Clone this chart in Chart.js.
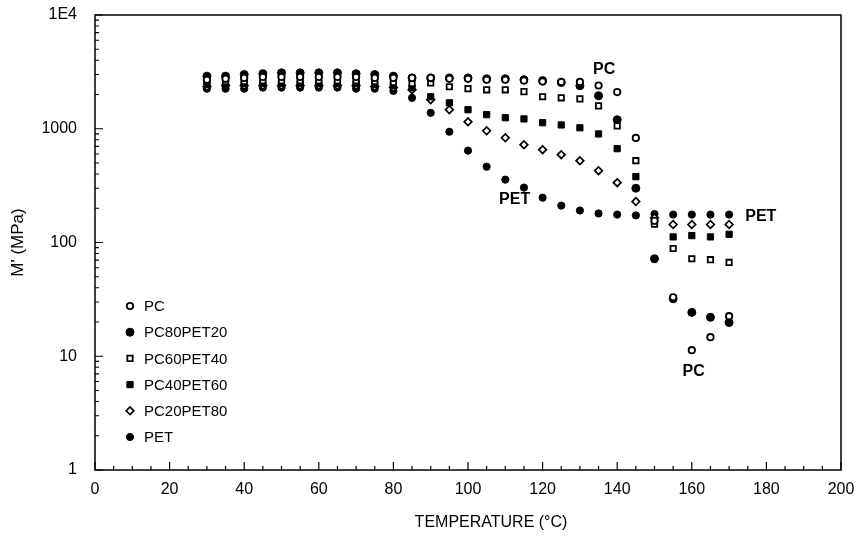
<!DOCTYPE html>
<html>
<head>
<meta charset="utf-8">
<script src="https://cdn.jsdelivr.net/npm/chart.js@4.4.0/dist/chart.umd.min.js"></script>
<style>
  html, body { margin: 0; padding: 0; background: #fff; }
</style>
</head>
<body>
<canvas id="myChart" width="862" height="539"></canvas>
<script>
// temperature (C)
const temps = [30, 35, 40, 45, 50, 55, 60, 65, 70, 75, 80, 85, 90, 95, 100, 105, 110, 115, 120, 125, 130, 135, 140, 145, 150, 155, 160, 165, 170];

// storage modulus M' (MPa)
const pc        = [2700, 2750, 2800, 2850, 2850, 2850, 2850, 2850, 2850, 2800, 2800, 2800, 2800, 2750, 2750, 2700, 2700, 2650, 2600, 2580, 2580, 2400, 2100, 830, 155, 33, 11.3, 14.7, 22.5];
const pc80pet20 = [2900, 2900, 3000, 3050, 3100, 3100, 3100, 3100, 3050, 3000, 2900, 2800, 2800, 2800, 2800, 2750, 2750, 2700, 2650, 2550, 2390, 1950, 1200, 300, 72, 32, 24.3, 22, 19.8];
const pc60pet40 = [2600, 2600, 2600, 2650, 2650, 2650, 2650, 2650, 2650, 2600, 2550, 2500, 2530, 2340, 2250, 2200, 2200, 2120, 1910, 1870, 1830, 1590, 1060, 524, 145, 88.5, 72, 70.6, 66.8];
const pc40pet60 = [2450, 2450, 2500, 2500, 2500, 2500, 2500, 2500, 2500, 2450, 2400, 2290, 1910, 1690, 1470, 1330, 1250, 1220, 1130, 1080, 1020, 900, 668, 379, 150, 112, 115, 112, 118];
const pc20pet80 = [2350, 2400, 2400, 2400, 2400, 2400, 2400, 2400, 2400, 2350, 2300, 2200, 1800, 1470, 1150, 960, 833, 724, 655, 592, 524, 428, 336, 229, 165, 144, 144, 144, 144];
const pet       = [2250, 2250, 2250, 2300, 2300, 2300, 2300, 2300, 2250, 2250, 2150, 1870, 1380, 941, 642, 464, 357, 304, 248, 211, 191, 180, 176, 173, 178, 176, 176, 176, 176];

const seriesNames = ["PC", "PC80PET20", "PC60PET40", "PC40PET60", "PC20PET80", "PET"];
const yTicks = [1, 10, 100, 1000, 10000];

// curve labels (x = temperature, y = modulus)
const notes = [
  { text: "PC",  x: 136.5, y: 3300 },
  { text: "PET", x: 112.5, y: 238 },
  { text: "PET", x: 178.5, y: 169 },
  { text: "PC",  x: 160.5, y: 7.4 }
];

const FONT = "'Liberation Sans', Arial, sans-serif";

function pts(vals) {
  return temps.map((t, i) => ({ x: t, y: vals[i] }));
}

const styles = [
  { pointStyle: "circle",  pointRadius: 3.2, pointBackgroundColor: "#fff", pointBorderWidth: 1.8 },
  { pointStyle: "circle",  pointRadius: 4,   pointBackgroundColor: "#000", pointBorderWidth: 1 },
  { pointStyle: "rect",    pointRadius: 3.8, pointBackgroundColor: "#fff", pointBorderWidth: 1.8 },
  { pointStyle: "rect",    pointRadius: 4.4, pointBackgroundColor: "#000", pointBorderWidth: 1 },
  { pointStyle: "rectRot", pointRadius: 3.8, pointBackgroundColor: "#fff", pointBorderWidth: 1.7 },
  { pointStyle: "circle",  pointRadius: 3.6, pointBackgroundColor: "#000", pointBorderWidth: 1 }
];

const allVals = [pc, pc80pet20, pc60pet40, pc40pet60, pc20pet80, pet];

const datasets = allVals.map((v, i) => Object.assign({
  label: seriesNames[i],
  data: pts(v),
  showLine: false,
  pointBorderColor: "#000"
}, styles[i]));

// frame, inward ticks, legend box, x title and curve labels
const decor = {
  id: "decor",
  afterDraw(chart) {
    const ctx = chart.ctx;
    const a = chart.chartArea;
    const xs = chart.scales.x;
    const ys = chart.scales.y;
    ctx.save();
    ctx.strokeStyle = "#000";
    ctx.lineWidth = 1.5;
    ctx.strokeRect(a.left, a.top, a.right - a.left, a.bottom - a.top);

    ctx.lineWidth = 1.2;
    ctx.beginPath();
    for (let v = 0; v <= 200; v += 5) {
      const px = xs.getPixelForValue(v);
      const len = v % 20 === 0 ? 8 : 4;
      ctx.moveTo(px, a.bottom);
      ctx.lineTo(px, a.bottom - len);
    }
    for (let d = 1; d < 10000; d *= 10) {
      for (let k = 1; k <= 10; k++) {
        const py = ys.getPixelForValue(d * k);
        const len = (k === 1 || k === 10) ? 8 : 4;
        ctx.moveTo(a.left, py);
        ctx.lineTo(a.left + len, py);
      }
    }
    ctx.stroke();

    // legend
    ctx.font = "15px " + FONT;
    ctx.textBaseline = "middle";
    ctx.textAlign = "left";
    chart.data.datasets.forEach((ds, i) => {
      const y = 306 + i * 26.2;
      const x = a.left + 35;
      ctx.fillStyle = ds.pointBackgroundColor;
      ctx.strokeStyle = "#000";
      ctx.lineWidth = ds.pointBorderWidth;
      Chart.helpers.drawPoint(ctx, {
        pointStyle: ds.pointStyle,
        radius: ds.pointRadius,
        borderWidth: ds.pointBorderWidth,
        rotation: 0
      }, x, y);
      ctx.fillStyle = "#000";
      ctx.fillText(ds.label, x + 14, y + 1);
    });

    // x axis title
    ctx.font = "16px " + FONT;
    ctx.textAlign = "center";
    ctx.fillText("TEMPERATURE (\u00B0C)", 491, 523);

    ctx.font = "bold 16px " + FONT;
    notes.forEach(n => {
      ctx.fillText(n.text, xs.getPixelForValue(n.x), ys.getPixelForValue(n.y));
    });
    ctx.restore();
  }
};

new Chart("myChart", {
  type: "scatter",
  data: { datasets: datasets },
  plugins: [decor],
  options: {
    responsive: false,
    animation: false,
    layout: { padding: { top: 15, right: 21, left: 0, bottom: 0 } },
    plugins: {
      legend: { display: false },
      tooltip: { enabled: false }
    },
    scales: {
      x: {
        type: "linear",
        min: 0,
        max: 200,
        grid: { display: false, drawTicks: false },
        border: { display: false },
        ticks: {
          stepSize: 20,
          color: "#000",
          padding: 10,
          maxRotation: 0,
          font: { family: FONT, size: 16 }
        },
        afterFit(scale) {
          scale.height = 69;
          scale.paddingLeft = 0;
          scale.paddingRight = 0;
        }
      },
      y: {
        type: "logarithmic",
        min: 1,
        max: 10000,
        grid: { display: false, drawTicks: false },
        border: { display: false },
        afterBuildTicks(scale) {
          scale.ticks = yTicks.map(v => ({ value: v, major: true }));
        },
        ticks: {
          color: "#000",
          padding: 18,
          font: { family: FONT, size: 16 },
          callback: v => (v === 10000 ? "1E4" : String(v))
        },
        title: {
          display: true,
          text: "M' (MPa)",
          color: "#000",
          font: { family: FONT, size: 17 },
          padding: { top: 8, bottom: 0 }
        },
        afterFit(scale) {
          scale.width = 95;
          scale.paddingTop = 0;
          scale.paddingBottom = 0;
        }
      }
    }
  }
});
</script>
</body>
</html>
